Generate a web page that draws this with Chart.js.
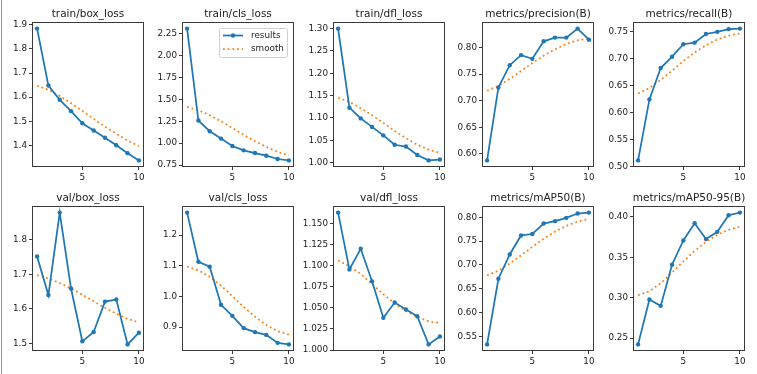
<!DOCTYPE html>
<html>
<head>
<meta charset="utf-8">
<script src="https://cdn.jsdelivr.net/npm/chart.js@4.4.0/dist/chart.umd.min.js"></script>
<style>
  body { margin: 0; background: #fff; }
  #wrap { position: relative; width: 757px; height: 374px; overflow: hidden; background: #fff; }
  #wrap canvas { position: absolute; }
  #edge { position: absolute; left: 1px; top: 0; width: 1px; height: 374px; background: #999; }
</style>
</head>
<body>
<div id="wrap"><div id="edge"></div></div>
<script>
// epochs (x axis)
const epochs = [1, 2, 3, 4, 5, 6, 7, 8, 9, 10];
const xTickLabels = ['5', '10'];

// values
const trainBoxLoss   = [1.884, 1.648, 1.589, 1.542, 1.492, 1.462, 1.432, 1.401, 1.368, 1.338];
const trainBoxSmooth = [1.648, 1.630, 1.605, 1.575, 1.543, 1.510, 1.478, 1.448, 1.420, 1.398];
const trainBoxTicks  = ['1.4', '1.5', '1.6', '1.7', '1.8', '1.9'];

const trainClsLoss   = [2.307, 1.258, 1.136, 1.052, 0.968, 0.918, 0.887, 0.857, 0.819, 0.803];
const trainClsSmooth = [1.414, 1.375, 1.318, 1.249, 1.172, 1.095, 1.022, 0.958, 0.900, 0.862];
const trainClsTicks  = ['0.75', '1.00', '1.25', '1.50', '1.75', '2.00', '2.25'];

const trainDflLoss   = [1.300, 1.123, 1.099, 1.080, 1.061, 1.040, 1.036, 1.017, 1.005, 1.007];
const trainDflSmooth = [1.145, 1.136, 1.122, 1.106, 1.089, 1.071, 1.055, 1.040, 1.029, 1.022];
const trainDflTicks  = ['1.00', '1.05', '1.10', '1.15', '1.20', '1.25', '1.30'];

const precision       = [0.5875, 0.725, 0.767, 0.786, 0.779, 0.812, 0.819, 0.819, 0.836, 0.815];
const precisionSmooth = [0.719, 0.728, 0.741, 0.756, 0.771, 0.785, 0.797, 0.807, 0.814, 0.817];
const precisionTicks  = ['0.60', '0.65', '0.70', '0.75', '0.80'];

const recall       = [0.511, 0.624, 0.682, 0.703, 0.726, 0.729, 0.745, 0.749, 0.754, 0.755];
const recallSmooth = [0.635, 0.645, 0.660, 0.677, 0.695, 0.711, 0.724, 0.735, 0.742, 0.746];
const recallTicks  = ['0.50', '0.55', '0.60', '0.65', '0.70', '0.75'];

const valBoxLoss   = [1.752, 1.640, 1.879, 1.659, 1.506, 1.533, 1.621, 1.627, 1.497, 1.531];
const valBoxSmooth = [1.698, 1.688, 1.675, 1.659, 1.641, 1.622, 1.603, 1.586, 1.571, 1.561];
const valBoxTicks  = ['1.5', '1.6', '1.7', '1.8'];

const valClsLoss   = [1.273, 1.113, 1.097, 0.973, 0.937, 0.897, 0.884, 0.875, 0.849, 0.844];
const valClsSmooth = [1.097, 1.085, 1.064, 1.035, 1.001, 0.966, 0.934, 0.907, 0.887, 0.876];
const valClsTicks  = ['0.9', '1.0', '1.1', '1.2'];

const valDflLoss   = [1.1626, 1.0954, 1.1198, 1.0813, 1.0381, 1.0562, 1.048, 1.040, 1.0067, 1.016];
const valDflSmooth = [1.106, 1.099, 1.090, 1.078, 1.066, 1.055, 1.046, 1.039, 1.034, 1.032];
const valDflTicks  = ['1.000', '1.025', '1.050', '1.075', '1.100', '1.125', '1.150'];

const map50       = [0.533, 0.671, 0.722, 0.762, 0.765, 0.787, 0.792, 0.799, 0.808, 0.810];
const map50Smooth = [0.678, 0.688, 0.703, 0.720, 0.738, 0.755, 0.770, 0.782, 0.791, 0.797];
const map50Ticks  = ['0.55', '0.60', '0.65', '0.70', '0.75', '0.80'];

const map5095       = [0.2422, 0.2977, 0.2899, 0.3408, 0.3708, 0.3922, 0.3725, 0.3815, 0.402, 0.4053];
const map5095Smooth = [0.303, 0.308, 0.318, 0.331, 0.345, 0.358, 0.369, 0.378, 0.384, 0.388];
const map5095Ticks  = ['0.25', '0.30', '0.35', '0.40'];

const panels = [
  { title: 'train/box_loss', results: trainBoxLoss, smooth: trainBoxSmooth, ticks: trainBoxTicks },
  { title: 'train/cls_loss', results: trainClsLoss, smooth: trainClsSmooth, ticks: trainClsTicks, legend: true },
  { title: 'train/dfl_loss', results: trainDflLoss, smooth: trainDflSmooth, ticks: trainDflTicks },
  { title: 'metrics/precision(B)', results: precision, smooth: precisionSmooth, ticks: precisionTicks },
  { title: 'metrics/recall(B)', results: recall, smooth: recallSmooth, ticks: recallTicks },
  { title: 'val/box_loss', results: valBoxLoss, smooth: valBoxSmooth, ticks: valBoxTicks },
  { title: 'val/cls_loss', results: valClsLoss, smooth: valClsSmooth, ticks: valClsTicks },
  { title: 'val/dfl_loss', results: valDflLoss, smooth: valDflSmooth, ticks: valDflTicks },
  { title: 'metrics/mAP50(B)', results: map50, smooth: map50Smooth, ticks: map50Ticks },
  { title: 'metrics/mAP50-95(B)', results: map5095, smooth: map5095Smooth, ticks: map5095Ticks },
];

// layout of the plot boxes
const colLeft = [32, 182, 333, 482, 633];
const rowTop = [22, 206];
const plotW = 112, plotH = 145;
const padLeft = 34, padTop = 22, padRight = 6, padBottom = 20;

const FONT = '"DejaVu Sans", sans-serif';
const C0 = '#1f77b4', C1 = '#ff7f0e';

// frame, title and legend like matplotlib
const panelPlugin = {
  id: 'panel',
  afterDraw(chart, args, opts) {
    const ctx = chart.ctx, a = chart.chartArea;
    ctx.save();
    ctx.strokeStyle = '#3a3a3a';
    ctx.lineWidth = 1;
    ctx.strokeRect(Math.round(a.left) + 0.5, Math.round(a.top) + 0.5,
                   Math.round(a.right - a.left) - 1, Math.round(a.bottom - a.top) - 1);

    ctx.fillStyle = '#222';
    ctx.font = '10.5px ' + FONT;
    ctx.textAlign = 'center';
    ctx.textBaseline = 'alphabetic';
    ctx.fillText(opts.title, (a.left + a.right) / 2, a.top - 5);

    if (opts.legend) {
      const w = 68, h = 29;
      const x = a.right - 7 - w, y = a.top + 6;
      ctx.beginPath();
      ctx.roundRect(x + 0.5, y + 0.5, w, h, 2);
      ctx.fillStyle = 'rgba(255,255,255,0.8)';
      ctx.fill();
      ctx.strokeStyle = '#d0d0d0';
      ctx.stroke();
      chart.data.datasets.forEach((ds, i) => {
        const cy = y + 7.5 + i * 13.5;
        ctx.strokeStyle = ds.borderColor;
        ctx.lineWidth = ds.borderWidth;
        ctx.setLineDash(ds.borderDash || []);
        ctx.beginPath();
        ctx.moveTo(x + 4, cy);
        ctx.lineTo(x + 24, cy);
        ctx.stroke();
        ctx.setLineDash([]);
        if (ds.pointRadius) {
          ctx.fillStyle = ds.borderColor;
          ctx.beginPath();
          ctx.arc(x + 14, cy, ds.pointRadius, 0, Math.PI * 2);
          ctx.fill();
        }
        ctx.fillStyle = '#222';
        ctx.font = '8.8px ' + FONT;
        ctx.textAlign = 'left';
        ctx.textBaseline = 'middle';
        ctx.fillText(ds.label, x + 32, cy);
      });
    }
    ctx.restore();
  }
};

const wrap = document.getElementById('wrap');

panels.forEach((p, i) => {
  const col = i % 5, row = Math.floor(i / 5);
  const canvas = document.createElement('canvas');
  const W = padLeft + plotW + padRight, H = padTop + plotH + padBottom;
  canvas.width = W;
  canvas.height = H;
  canvas.style.left = (colLeft[col] - padLeft) + 'px';
  canvas.style.top = (rowTop[row] - padTop) + 'px';
  wrap.appendChild(canvas);

  const all = p.results.concat(p.smooth);
  const lo = Math.min(...all), hi = Math.max(...all);
  const m = (hi - lo) * 0.05;
  const yVals = p.ticks.map(Number);
  const xVals = xTickLabels.map(Number);

  new Chart(canvas.getContext('2d'), {
    type: 'line',
    data: {
      datasets: [
        {
          label: 'results',
          data: epochs.map((e, k) => ({ x: e, y: p.results[k] })),
          borderColor: C0,
          backgroundColor: C0,
          borderWidth: 1.75,
          pointRadius: 2.2,
          pointBorderWidth: 0,
          pointBackgroundColor: C0,
        },
        {
          label: 'smooth',
          data: epochs.map((e, k) => ({ x: e, y: p.smooth[k] })),
          borderColor: C1,
          borderWidth: 1.75,
          borderDash: [1.8, 2.9],
          pointRadius: 0,
        },
      ],
    },
    options: {
      responsive: false,
      animation: false,
      devicePixelRatio: 1,
      clip: false,
      layout: { padding: { top: padTop, right: padRight, left: 0, bottom: 0 } },
      plugins: {
        legend: { display: false },
        tooltip: { enabled: false },
        title: { display: false },
        panel: { title: p.title, legend: !!p.legend },
      },
      scales: {
        x: {
          type: 'linear',
          min: 0.55,
          max: 10.45,
          afterFit: (s) => { s.height = padBottom; },
          afterBuildTicks: (s) => { s.ticks = xVals.map((v) => ({ value: v })); },
          border: { display: false },
          grid: { display: true, drawOnChartArea: false, drawTicks: true, tickLength: 3, color: '#3a3a3a' },
          ticks: {
            padding: 2,
            color: '#222',
            font: { family: FONT, size: 8.8 },
            maxRotation: 0,
            callback: (v) => xTickLabels[xVals.indexOf(v)],
          },
        },
        y: {
          type: 'linear',
          min: lo - m,
          max: hi + m,
          afterFit: (s) => { s.width = padLeft; },
          afterBuildTicks: (s) => { s.ticks = yVals.map((v) => ({ value: v })); },
          border: { display: false },
          grid: { display: true, drawOnChartArea: false, drawTicks: true, tickLength: 3, color: '#3a3a3a' },
          ticks: {
            padding: 2,
            color: '#222',
            font: { family: FONT, size: 8.8 },
            callback: (v) => p.ticks[yVals.indexOf(v)],
          },
        },
      },
    },
    plugins: [panelPlugin],
  });
});
</script>
</body>
</html>
